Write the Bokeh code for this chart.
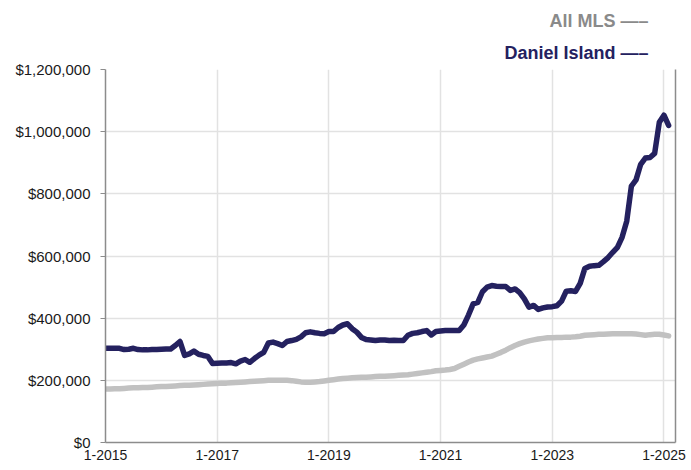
import numpy as np
from bokeh.plotting import figure
from bokeh.models import (FixedTicker, NumeralTickFormatter, LinearAxis, Title,
                          Range1d, ColumnDataSource)
from bokeh.embed import file_html
from bokeh.resources import INLINE

# ---------------- data (monthly median price, thousands of $) ----------------
START_YEAR = 2015  # January 2015 is the first month
daniel_island_k = [
    303, 303, 303, 303, 299, 300, 303, 299, 298, 298, 299, 299,
    300, 301, 301, 312, 325, 280, 285, 294, 284, 280, 277, 254,
    255, 256, 256, 257, 253, 262, 267, 258, 270, 281, 290, 320,
    323, 318, 312, 325, 328, 332, 340, 353, 356, 353, 351, 350,
    357, 357, 370, 378, 382, 366, 355, 338, 331, 330, 328, 330,
    330, 328, 329, 328, 328, 345, 351, 353, 357, 360, 346, 357,
    359, 360, 360, 360, 360, 378, 410, 446, 451, 485, 500, 505,
    503, 502, 502, 489, 494, 482, 462, 435, 441, 428, 433, 436,
    437, 440, 455, 487, 488, 486, 512, 560, 567, 569, 570, 582,
    595, 612, 628, 660, 712, 825, 845, 895, 915, 917, 930, 1030,
    1053, 1020,
]
all_mls_k = [
    172, 172, 173, 173, 174, 175, 176, 176, 177, 177, 178, 179,
    180, 180, 181, 182, 183, 184, 184, 185, 186, 187, 188, 189,
    190, 191, 191, 192, 193, 194, 195, 196, 197, 198, 199, 200,
    200, 200, 200, 200, 199, 197, 195, 194, 194, 195, 196, 198,
    200, 202, 204, 206, 207, 208, 209, 210, 210, 211, 212, 213,
    213, 214, 215, 216, 217, 218, 220, 222, 224, 226, 228, 231,
    232, 233, 235, 238, 245, 252, 259, 265, 269, 272, 275, 278,
    284, 290, 297, 305, 312, 318, 323, 327, 330, 333, 335, 337,
    337, 338, 338, 339, 339, 340, 342, 345, 346, 347, 348, 348,
    349, 350, 350, 350, 350, 350, 349, 347, 345, 347, 348, 348,
    346, 343,
]
series_names = ["All MLS", "Daniel Island"]
x_ticks = [2015, 2017, 2019, 2021, 2023, 2025]
x_tick_labels = ["1-2015", "1-2017", "1-2019", "1-2021", "1-2023", "1-2025"]
y_ticks = [0, 200000, 400000, 600000, 800000, 1000000, 1200000]

# ---------------- styling ----------------
NAVY = "#24215f"
GRAY_LINE = "#c1c1c1"
GRAY_TEXT = "#8a8a8a"
AXIS = "#8c8c8c"
GRID = "#e2e2e2"
FONT = "Liberation Sans"
LEGEND_DASH = "\u2014\u2013"   # em dash + en dash -> one longer rule

months = np.arange(len(daniel_island_k))
src = ColumnDataSource(dict(
    t=START_YEAR + months / 12.0,
    di=np.array(daniel_island_k) * 1000.0,
    mls=np.array(all_mls_k) * 1000.0,
))

p = figure(width=691, height=470, output_backend="svg", toolbar_location=None,
           x_range=Range1d(START_YEAR, START_YEAR + (len(months)) / 12.0 + 0.04),
           y_range=Range1d(y_ticks[0], y_ticks[-1]),
           min_border_left=105, min_border_top=69, min_border_right=16,
           min_border_bottom=28)
p.outline_line_color = None
p.background_fill_color = "white"
p.border_fill_color = "white"

p.line("t", "mls", source=src, line_width=5.5, line_color=GRAY_LINE,
       line_join="round", line_cap="round")
p.line("t", "di", source=src, line_width=5.5, line_color=NAVY,
       line_join="round", line_cap="round")

# axes
xa = p.xaxis[0]
xa.ticker = FixedTicker(ticks=x_ticks)
xa.major_label_overrides = {k: v for k, v in zip(x_ticks, x_tick_labels)}
xa.major_tick_out = 0
xa.major_tick_in = 0
xa.minor_tick_out = 0
xa.minor_tick_in = 0
xa.major_label_standoff = 7
xa.axis_line_color = AXIS
xa.axis_line_width = 1.5
xa.major_label_text_font = FONT
xa.major_label_text_font_size = "14px"
xa.major_label_text_color = "#1a1a1a"

ya = p.yaxis[0]
ya.ticker = FixedTicker(ticks=y_ticks)
ya.formatter = NumeralTickFormatter(format="$0,0")
ya.major_tick_out = 5
ya.major_tick_in = 0
ya.minor_tick_out = 0
ya.minor_tick_in = 0
ya.major_tick_line_color = AXIS
ya.major_label_standoff = 10
ya.axis_line_color = AXIS
ya.axis_line_width = 1.5
ya.major_label_text_font = FONT
ya.major_label_text_font_size = "15px"
ya.major_label_text_color = "#1a1a1a"

ra = LinearAxis(ticker=FixedTicker(ticks=[]), major_tick_out=0, major_tick_in=0,
                minor_tick_out=0, minor_tick_in=0, major_label_standoff=0,
                major_label_text_font_size="0px", axis_line_color=AXIS,
                axis_line_width=1.5)
p.add_layout(ra, "right")

p.xgrid.grid_line_color = GRID
p.xgrid.grid_line_width = 1.5
p.ygrid.grid_line_color = GRID
p.ygrid.grid_line_width = 1.5

# legend: right-aligned titles above the frame ("name  ——"), nearest-to-frame first
leg_colors = [GRAY_TEXT, NAVY]
for i, (name, col) in enumerate(reversed(list(zip(series_names, leg_colors)))):
    p.add_layout(Title(text=name + "  " + LEGEND_DASH, align="right", offset=22,
                       standoff=13 if i == 0 else 8, text_color=col, text_font=FONT,
                       text_font_style="bold", text_font_size="18px"), "above")

open("out.html", "w").write(file_html(p, INLINE))
